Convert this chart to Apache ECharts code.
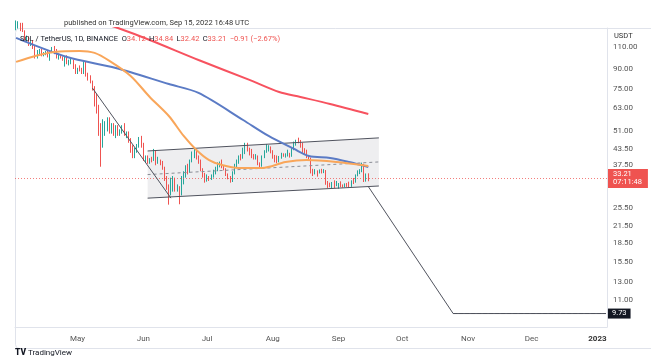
<!DOCTYPE html>
<html><head><meta charset="utf-8">
<script src="https://cdn.jsdelivr.net/npm/echarts@6/dist/echarts.min.js"></script>
<style>html,body{margin:0;padding:0;background:#fff}#c{width:651px;height:364px}</style>
</head><body><div id="c"></div>
<script>
// ---- data ----
const firstDay = '2022-04-02';
const dayCount = 279; // Apr 2 2022 .. Jan 5 2023 (time scale incl. empty future)
// daily candles [open, high, low, close], 2022-04-02 .. 2022-09-15
const candlesApr = [
 [132,140,128,133],[133,139,130,136],[136,137,127,135],[135,137,126,127],[127,128,115,118],
 [118,122,115,119],[119,121,111,112],[112,116,111,114],[114,117,108,110],[110,111,99,100],
 [100,107,99,104],[104,108,102,107],[107,108,101,102],[102,105,101,104],[104,106,102,104.5],
 [104.5,106,100,101],[101,106,97,105],[105,110,104,109],[109,111,103,104],[104,108,99,101],
 [101,103,98,101.5],[101.5,102,99,100],[100,101,97,98],[98,101,92,100],[100,102,94,95],
 [95,98,93,96],[96,99,94,97],[97,98,90,92],[92,94,86,87]];
const candlesMay = [
 [87,91,86,90],[90,93,88,89.5],[89.5,91,86,87],[87,97,86,95],[95,96,84,86],[86,87,81,84],
 [84,85,79,80],[80,81,74,76],[76,77,64,66],[66,72,60,63],[63,65,49,51],[51,55,37,46],
 [46,57,44,53],[53,56,49,54],[54,58,51,57],[57,58,50,51],[51,55,50,54],[54,55,49,50],
 [50,54,48,52],[52,54,49,50],[50,52,49,51],[51,54,50,53],[53,55,49,50],[50,51,48,50],
 [50,51,46,47],[47,48,42,44],[44,45,40,41],[41,44,40,43],[43,45.5,42,45],[45,48.5,44,48],
 [48,49,44,45]];
const candlesJun = [
 [45,46,39,39.5],[39.5,41,38.5,40.5],[40.5,41,38,38.5],[38.5,40,38,39.5],[39.5,40.5,38.5,39.3],
 [39.3,43.5,39,42.5],[42.5,43,37.5,38.8],[38.8,40.5,38,39.2],[39.2,39.5,37.5,38.5],[38.5,39,36,36.5],
 [36.5,37,32.5,33],[33,34,30,31],[31,31.5,26.2,29],[29,33.5,28.5,32.5],[32.5,34,29.5,33],
 [33,33.5,29.5,30],[30,31.5,29.5,30.5],[30.5,31,26.3,29.5],[29.5,34,28.5,33.5],[33.5,35.5,31.5,34],
 [34,37.5,33.5,36.5],[36.5,38,34.5,35.5],[35.5,39.5,35,39],[39,42.5,38.5,41.5],[41.5,43.8,40,42.8],
 [42.8,43.5,39.5,40],[40,41,38,38.5],[38.5,39.5,35.5,36],[36,36.5,33.5,34.5],[34.5,35,32,33]];
const candlesJul = [
 [33,34.5,32.3,33.5],[33.5,34,32.5,33.2],[33.2,34.5,32.8,34],[34,36,33.5,35.8],[35.8,37,34.5,36.5],
 [36.5,38.5,35.5,37.8],[37.8,38.8,36.8,38],[38,39.5,36.5,37],[37,37.5,35.8,36],[36,36.5,34,34.5],
 [34.5,34.8,33,33.2],[33.2,34,32,32.8],[32.8,35.5,32.2,35],[35,38,34.5,37.5],[37.5,39.5,36.8,38.8],
 [38.8,41,38,40.5],[40.5,41.5,39.2,40],[40,44,39.8,43.5],[43.5,46,41.5,44.5],[44.5,46,42.5,43.2],
 [43.2,44,41,42.5],[42.5,43.5,40,40.5],[40.5,41.5,39.5,40],[40,41.5,39.5,40.8],[40.8,41,37.5,38],
 [38,38.5,36.8,37.2],[37.2,41,37,40.5],[40.5,43,40,42.5],[42.5,45.5,42,43.5],[43.5,45,42.5,44],
 [44,44.5,41.8,42.5]];
const candlesAug = [
 [42.5,43,39.8,40.5],[40.5,41.2,38.5,39.5],[39.5,41,38.2,38.8],[38.8,40.8,38.5,40.2],[40.2,42,39.8,41.2],
 [41.2,41.8,40.5,40.8],[40.8,41.8,40.2,41.2],[41.2,43.2,40.6,41.5],[41.5,42,40.2,41],[41,44,40.5,43.5],
 [43.5,46.5,43,45.8],[45.8,47.3,44.8,46.6],[46.6,48.2,45.8,46.5],[46.5,47.2,44,44.8],[44.8,46,42,43],
 [43,43.8,41.5,42],[42,43.2,40,40.5],[40.5,41,39.5,40],[40,40.2,34.8,35.5],[35.5,36.3,34,34.8],
 [34.8,36.2,34.5,35.6],[35.6,35.8,33.8,35.2],[35.2,36.1,34.8,35.8],[35.8,36.3,34.8,35.3],[35.3,36.2,34.9,35.4],
 [35.4,35.9,31.4,31.8],[31.8,32.5,30.5,31.3],[31.3,32,30.7,30.8],[30.8,32.2,30.3,31.8],[31.8,32.7,30.5,31.4],
 [31.4,32.5,31,31.5]];
const candlesSep = [
 [31.5,31.9,30.3,31.6],[31.6,32.4,30.7,31.1],[31.1,31.5,30.6,30.9],[30.9,31.8,30.7,31.6],[31.6,31.9,30.8,31.3],
 [31.3,32.3,30.5,31.2],[31.2,32.7,30.8,32.4],[32.4,33.4,31.6,32.1],[32.1,34.5,32,34.2],[34.2,35.8,33.9,35.3],
 [35.3,36.2,34.6,35.5],[35.5,38.4,35.2,37.2],[37.2,38,32.2,32.6],[32.6,34.8,32.3,34.12],[34.12,34.84,32.42,33.21]];

// moving averages [date, value]
const maRed = [['2022-05-11',138],['2022-05-20',130.7],['2022-06-04',117.2],['2022-06-27',97.7],['2022-07-21',81.5],
 ['2022-08-04',73.0],['2022-08-14',69.8],['2022-08-28',65.5],['2022-09-15',59.8]];
const maBlue = [['2022-04-02',119.4],['2022-04-26',100.4],['2022-05-19',90.9],['2022-06-13',78.5],['2022-06-27',72.4],
 ['2022-07-18',56.6],['2022-07-30',48.95],['2022-08-11',43.5],['2022-08-18',40.8],['2022-08-28',40.05],
 ['2022-09-06',38.6],['2022-09-15',36.9]];
const maOrange = [['2022-04-02',96.0],['2022-04-11',101.3],['2022-04-20',105.1],['2022-05-02',106.1],['2022-05-09',104.2],
 ['2022-05-16',96.9],['2022-05-26',84.5],['2022-06-04',69.8],['2022-06-13',58.7],['2022-06-20',48.95],
 ['2022-06-26',43.1],['2022-07-02',39.3],['2022-07-08',37.6],['2022-07-16',36.6],['2022-07-27',36.6],
 ['2022-08-07',38.6],['2022-08-17',39.3],['2022-08-31',38.6],['2022-09-15',37.25]];

// drawings
const channelUpper = [['2022-06-03',42.7],['2022-09-20',48.1]];
const channelLower = [['2022-06-03',27.8],['2022-09-20',31.05]];
const channelMid = [['2022-06-03',34.45],['2022-09-20',38.65]];
const trendLine = [['2022-05-08',75.7],['2022-06-14',27.8]];
const projection = [['2022-09-15',30.9],['2022-10-25',9.73],['2023-01-05',9.73]];
const targetPrice = 9.73;
const lastPrice = 33.21;
const countdown = '07:11:48';

const priceTicks = [110, 90, 75, 63, 51, 43.5, 37.5, 25.5, 21.5, 18.5, 15.5, 13, 11];
const monthNames = ['Jan','Feb','Mar','Apr','May','Jun','Jul','Aug','Sep','Oct','Nov','Dec'];

// ---- build ----
const categories = [];
const d0 = Date.parse(firstDay + 'T00:00:00Z');
for (let i = 0; i < dayCount; i++) categories.push(new Date(d0 + i * 86400000).toISOString().slice(0, 10));
const idx = d => categories.indexOf(d);
const toPts = arr => arr.map(p => [idx(p[0]), p[1]]);

const candles = [].concat(candlesApr, candlesMay, candlesJun, candlesJul, candlesAug, candlesSep);
const candleData = candles.map(c => [c[0], c[3], c[2], c[1]]);
const last = candles[candles.length - 1];
const prevClose = candles[candles.length - 2][3];
const chg = last[3] - prevClose;
const chgPct = chg / prevClose * 100;
const fmtS = v => (v < 0 ? '\u2212' : '+') + Math.abs(v).toFixed(2);

const FONT = 'Roboto, "Liberation Sans", sans-serif';
const chart = echarts.init(document.getElementById('c'));
const lineBase = (data, color, width, extra) => Object.assign({
  type: 'line', data: toPts(data), symbol: 'none', silent: true,
  lineStyle: { color: color, width: width }, animation: false
}, extra || {});

chart.setOption({
  animation: false,
  backgroundColor: '#fff',
  textStyle: { fontFamily: FONT },
  grid: { left: 15, right: 44, top: 28, bottom: 37 },
  xAxis: {
    type: 'category', data: categories, boundaryGap: true,
    axisTick: { show: false },
    axisLine: { lineStyle: { color: '#e0e3eb' } },
    splitLine: { show: false },
    axisLabel: {
      interval: (i, v) => v.slice(8) === '01',
      formatter: v => v.slice(5, 7) === '01' ? '{b|' + v.slice(0, 4) + '}' : monthNames[+v.slice(5, 7) - 1],
      color: '#555', fontSize: 8, margin: 8, fontFamily: FONT,
      rich: { b: { fontWeight: 'bold', color: '#333', fontSize: 8, fontFamily: FONT } }
    }
  },
  yAxis: {
    type: 'log', position: 'right', min: 8.61, max: 130.7,
    splitLine: { show: false },
    axisTick: { show: false },
    axisLine: { show: true, lineStyle: { color: '#e0e3eb' } },
    axisLabel: { customValues: priceTicks, formatter: v => Number(v).toFixed(2), color: '#555', fontSize: 8, margin: 6, fontFamily: FONT }
  },
  graphic: [
    { type: 'rect', z: -1, shape: { x: 15.5, y: 28.5, width: 650, height: 320, r: 4 }, style: { fill: 'none', stroke: '#e0e3eb' }, silent: true },
    { type: 'text', left: 64, top: 19, style: { text: 'published on TradingView.com, Sep 15, 2022 16:48 UTC', fill: '#333', fontSize: 7.5, fontFamily: FONT } },
    { type: 'text', left: 20, top: 33, z: 100, style: {
      text: '{k|SOL / TetherUS, 1D, BINANCE  O}{r|' + last[0].toFixed(2) + '} {k|H}{r|' + last[1].toFixed(2) + '} {k|L}{r|' + last[2].toFixed(2) + '} {k|C}{r|' + last[3].toFixed(2) + '} {r|' + fmtS(chg) + ' (' + fmtS(chgPct) + '%)}',
      rich: { k: { fill: '#131722', fontSize: 7.5, fontFamily: FONT }, r: { fill: '#ef5350', fontSize: 7.5, fontFamily: FONT } } } },
    { type: 'text', left: 614, top: 32, style: { text: 'USDT', fill: '#333', fontSize: 7.5, fontFamily: FONT } },
    { type: 'text', left: 15, top: 348, style: { text: 'TV', fill: '#131722', fontSize: 8.5, fontWeight: 900, fontFamily: FONT } },
    { type: 'text', left: 28, top: 349, style: { text: 'TradingView', fill: '#131722', fontSize: 8, fontFamily: FONT } }
  ],
  series: [
    { type: 'custom', silent: true, z: 1, data: [[idx(channelLower[0][0]), channelLower[0][1]]],
      renderItem: (params, api) => {
        const pts = [channelUpper[0], channelUpper[1], channelLower[1], channelLower[0]].map(p => api.coord([idx(p[0]), p[1]]));
        return { type: 'polygon', shape: { points: pts }, style: { fill: 'rgba(120,123,140,0.13)' } };
      } },
    lineBase(channelUpper, '#50535e', 1, { z: 5 }),
    lineBase(channelLower, '#50535e', 1, { z: 5 }),
    lineBase(channelMid, '#8a8d96', 1, { z: 5, lineStyle: { color: '#8a8d96', width: 1, type: [3, 3] } }),
    lineBase(trendLine, '#50535e', 1, { z: 5 }),
    { type: 'candlestick', data: candleData, barWidth: 1, z: 3, silent: true,
      itemStyle: { color: '#26a69a', color0: '#ef5350', borderColor: '#26a69a', borderColor0: '#ef5350', borderWidth: 1 },
      markLine: { symbol: ['none', 'none'], silent: true, animation: false,
        lineStyle: { color: 'rgba(239,83,80,0.75)', type: [1, 2], width: 1 },
        label: { position: 'end', distance: 1, formatter: lastPrice.toFixed(2) + '\n' + countdown, color: '#fff', backgroundColor: '#ef5350',
          padding: [2, 6, 1, 5], fontSize: 7.5, lineHeight: 8, fontFamily: FONT, align: 'left', opacity: 1 },
        data: [{ yAxis: lastPrice }] } },
    lineBase(maRed, '#f7525f', 2, { smooth: 0.3, z: 6 }),
    lineBase(maBlue, '#5b7bc5', 2, { smooth: 0.3, z: 6 }),
    lineBase(maOrange, '#f9a65a', 2, { smooth: 0.3, z: 6 }),
    lineBase(projection, '#50535e', 1, { z: 5,
      markLine: { symbol: ['none', 'none'], silent: true, animation: false,
        lineStyle: { color: '#50535e', width: 1 },
        label: { position: 'end', distance: 2, formatter: targetPrice.toFixed(2), color: '#fff', backgroundColor: '#131722',
          padding: [1, 4, 1, 4], fontSize: 7.5, fontFamily: FONT },
        data: [[{ coord: [idx(projection[1][0]), targetPrice] }, { coord: [idx(projection[2][0]), targetPrice] }]] } })
  ]
});
</script></body></html>
